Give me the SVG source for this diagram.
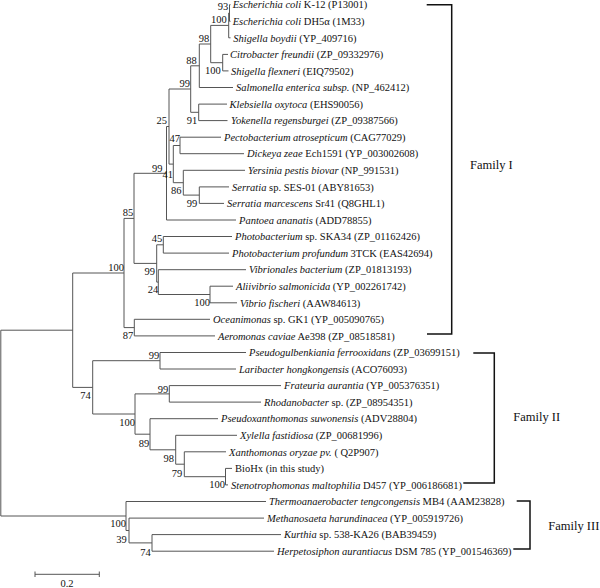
<svg xmlns="http://www.w3.org/2000/svg" width="600" height="588" viewBox="0 0 600 588">
<style>
text{font-family:"Liberation Serif","Times New Roman",serif;fill:#111}
.lf{font-size:10.5px}
.i{font-style:italic}
.bs{font-size:10.5px;text-anchor:end}
.fam{font-size:12.5px}
.br{fill:none;stroke:#555;stroke-width:1}
.bk{fill:none;stroke:#111;stroke-width:1.5}
</style>
<rect width="600" height="588" fill="#fff"/>
<g id="connectors">
<path class="br" d="M230.5,4.7H229.5V21.3H230.5"/>
<path class="br" d="M229.5,13H228.7V37.8H230.5"/>
<path class="br" d="M228,54.4H222.7V70.9H228.5"/>
<path class="br" d="M228.7,25.4H210.7V62.7H222.7"/>
<path class="br" d="M210.7,44H199.3V87.5H233"/>
<path class="br" d="M227,104.1H198.7V120.6H227.5"/>
<path class="br" d="M199.3,65.8H190.7V112.3H198.7"/>
<path class="br" d="M221,137.2H180V153.7H244"/>
<path class="br" d="M229,186.9H199.3V203.4H224"/>
<path class="br" d="M245,170.3H183.3V195.1H199.3"/>
<path class="br" d="M180,145.5H173.3V182.7H183.3"/>
<path class="br" d="M190.7,89H169V164.1H173.3"/>
<path class="br" d="M169,126.5H166.5V220H236"/>
<path class="br" d="M232,236.5H163.3V253.1H229"/>
<path class="br" d="M233,286.2H210V302.8H237"/>
<path class="br" d="M246,269.7H158.3V294.5H210"/>
<path class="br" d="M163.3,244.8H156.7V282.1H158.3"/>
<path class="br" d="M166.5,173.3H134V263.4H156.7"/>
<path class="br" d="M210,319.3H134.3V335.9H215"/>
<path class="br" d="M134,218.4H124V327.6H134.3"/>
<path class="br" d="M246,352.5H160V369H236"/>
<path class="br" d="M281,385.6H169.3V402.1H261"/>
<path class="br" d="M232,468.4H225.5V484.9H228"/>
<path class="br" d="M226,451.8H184.3V476.7H225.5"/>
<path class="br" d="M237,435.3H175.7V464.2H184.3"/>
<path class="br" d="M218,418.7H150V449.8H175.7"/>
<path class="br" d="M169.3,393.9H135V434.2H150"/>
<path class="br" d="M160,360.7H92.7V414H135"/>
<path class="br" d="M124,273H72.7V387.4H92.7"/>
<path class="br" d="M281,534.6H152V551.2H274"/>
<path class="br" d="M264,518.1H129V542.9H152"/>
<path class="br" d="M266,501.5H126V530.5H129"/>
<path class="br" d="M72.7,330.2H0.8V516H126"/>
</g>
<g id="leaves">
<g id="leaf-ecoli-k12"><text class="lf" x="232.7" y="8.4"><tspan class="i">Escherichia coli</tspan> K-12 (P13001)</text></g>
<g id="leaf-ecoli-dh5a"><text class="lf" x="232.7" y="25"><tspan class="i">Escherichia coli</tspan> DH5α (1M33)</text></g>
<g id="leaf-shigella-boydii"><text class="lf" x="233.3" y="41.5"><tspan class="i">Shigella boydii</tspan> (YP_409716)</text></g>
<g id="leaf-citrobacter"><text class="lf" x="230" y="58.1"><tspan class="i">Citrobacter freundii</tspan> (ZP_09332976)</text></g>
<g id="leaf-shigella-flexneri"><text class="lf" x="231" y="74.6"><tspan class="i">Shigella flexneri</tspan> (EIQ79502)</text></g>
<g id="leaf-salmonella"><text class="lf" x="236" y="91.2"><tspan class="i">Salmonella enterica subsp.</tspan> (NP_462412)</text></g>
<g id="leaf-klebsiella"><text class="lf" x="229.5" y="107.8"><tspan class="i">Klebsiella oxytoca</tspan> (EHS90056)</text></g>
<g id="leaf-yokenella"><text class="lf" x="231" y="124.3"><tspan class="i">Yokenella regensburgei</tspan> (ZP_09387566)</text></g>
<g id="leaf-pectobacterium"><text class="lf" x="224" y="140.9"><tspan class="i">Pectobacterium atrosepticum</tspan> (CAG77029)</text></g>
<g id="leaf-dickeya"><text class="lf" x="247" y="157.4"><tspan class="i">Dickeya zeae</tspan> Ech1591 (YP_003002608)</text></g>
<g id="leaf-yersinia"><text class="lf" x="248" y="174"><tspan class="i">Yersinia pestis biovar</tspan> (NP_991531)</text></g>
<g id="leaf-serratia-ses01"><text class="lf" x="232" y="190.6"><tspan class="i">Serratia</tspan> sp. SES-01 (ABY81653)</text></g>
<g id="leaf-serratia-marcescens"><text class="lf" x="227" y="207.1"><tspan class="i">Serratia marcescens</tspan> Sr41 (Q8GHL1)</text></g>
<g id="leaf-pantoea"><text class="lf" x="239" y="223.7"><tspan class="i">Pantoea ananatis</tspan> (ADD78855)</text></g>
<g id="leaf-photobacterium-ska34"><text class="lf" x="235" y="240.2"><tspan class="i">Photobacterium</tspan> sp. SKA34 (ZP_01162426)</text></g>
<g id="leaf-photobacterium-profundum"><text class="lf" x="232" y="256.8"><tspan class="i">Photobacterium profundum</tspan> 3TCK (EAS42694)</text></g>
<g id="leaf-vibrionales"><text class="lf" x="249" y="273.4"><tspan class="i">Vibrionales bacterium</tspan> (ZP_01813193)</text></g>
<g id="leaf-aliivibrio"><text class="lf" x="236" y="289.9"><tspan class="i">Aliivibrio salmonicida</tspan> (YP_002261742)</text></g>
<g id="leaf-vibrio-fischeri"><text class="lf" x="240" y="306.5"><tspan class="i">Vibrio fischeri</tspan> (AAW84613)</text></g>
<g id="leaf-oceanimonas"><text class="lf" x="213" y="323"><tspan class="i">Oceanimonas</tspan> sp. GK1 (YP_005090765)</text></g>
<g id="leaf-aeromonas"><text class="lf" x="218" y="339.6"><tspan class="i">Aeromonas caviae</tspan> Ae398 (ZP_08518581)</text></g>
<g id="leaf-pseudogulbenkiania"><text class="lf" x="249" y="356.2"><tspan class="i">Pseudogulbenkiania ferrooxidans</tspan> (ZP_03699151)</text></g>
<g id="leaf-laribacter"><text class="lf" x="239" y="372.7"><tspan class="i">Laribacter hongkongensis</tspan> (ACO76093)</text></g>
<g id="leaf-frateuria"><text class="lf" x="284" y="389.3"><tspan class="i">Frateuria aurantia</tspan> (YP_005376351)</text></g>
<g id="leaf-rhodanobacter"><text class="lf" x="264" y="405.8"><tspan class="i">Rhodanobacter</tspan> sp. (ZP_08954351)</text></g>
<g id="leaf-pseudoxanthomonas"><text class="lf" x="221" y="422.4"><tspan class="i">Pseudoxanthomonas suwonensis</tspan> (ADV28804)</text></g>
<g id="leaf-xylella"><text class="lf" x="240" y="439"><tspan class="i">Xylella fastidiosa</tspan> (ZP_00681996)</text></g>
<g id="leaf-xanthomonas"><text class="lf" x="229" y="455.5"><tspan class="i">Xanthomonas oryzae pv.</tspan> ( Q2P907)</text></g>
<g id="leaf-biohx"><text class="lf" x="235" y="472.1">BioHx (in this study)</text></g>
<g id="leaf-stenotrophomonas"><text class="lf" x="231" y="488.6"><tspan class="i">Stenotrophomonas maltophilia</tspan> D457 (YP_006186681)</text></g>
<g id="leaf-thermoanaerobacter"><text class="lf" x="269" y="505.2"><tspan class="i">Thermoanaerobacter tengcongensis</tspan> MB4 (AAM23828)</text></g>
<g id="leaf-methanosaeta"><text class="lf" x="267" y="521.8"><tspan class="i">Methanosaeta harundinacea</tspan> (YP_005919726)</text></g>
<g id="leaf-kurthia"><text class="lf" x="284" y="538.3"><tspan class="i">Kurthia</tspan> sp. 538-KA26 (BAB39459)</text></g>
<g id="leaf-herpetosiphon"><text class="lf" x="277" y="554.9"><tspan class="i">Herpetosiphon aurantiacus</tspan> DSM 785 (YP_001546369)</text></g>
</g>
<g id="bootstrap">
<text class="bs" x="228.3" y="9.5">93</text>
<text class="bs" x="226.7" y="23">100</text>
<text class="bs" x="209.3" y="41.5">98</text>
<text class="bs" x="196.7" y="64">88</text>
<text class="bs" x="220.7" y="74">100</text>
<text class="bs" x="190" y="87">99</text>
<text class="bs" x="197.3" y="123.5">91</text>
<text class="bs" x="167" y="124">25</text>
<text class="bs" x="180" y="141.5">47</text>
<text class="bs" x="162.5" y="171.5">99</text>
<text class="bs" x="173" y="177.5">41</text>
<text class="bs" x="181.5" y="193.5">86</text>
<text class="bs" x="197.3" y="206.7">99</text>
<text class="bs" x="133.3" y="216">85</text>
<text class="bs" x="162.3" y="242">45</text>
<text class="bs" x="124" y="270.5">100</text>
<text class="bs" x="155" y="275">99</text>
<text class="bs" x="158.3" y="293.3">24</text>
<text class="bs" x="210" y="306">100</text>
<text class="bs" x="133.3" y="339.3">87</text>
<text class="bs" x="159.3" y="358.5">99</text>
<text class="bs" x="168.3" y="392.7">99</text>
<text class="bs" x="90.7" y="399">74</text>
<text class="bs" x="135" y="425.5">100</text>
<text class="bs" x="149.3" y="446.7">89</text>
<text class="bs" x="174" y="461.7">98</text>
<text class="bs" x="182.3" y="476.7">79</text>
<text class="bs" x="225" y="488.3">100</text>
<text class="bs" x="126" y="527.3">100</text>
<text class="bs" x="126.7" y="542.7">39</text>
<text class="bs" x="150.7" y="556">74</text>
</g>
<g id="family-1">
<path class="bk" d="M426.7,4.7H451.7V334H427"/>
<text class="fam" x="470" y="169">Family I</text>
</g>
<g id="family-2">
<path class="bk" d="M473.3,353H494.3V483H463.3"/>
<text class="fam" x="513.3" y="421">Family II</text>
</g>
<g id="family-3">
<path class="bk" d="M516.7,501H530V549H513.3"/>
<text class="fam" x="548.3" y="530">Family III</text>
</g>
<g id="scale-bar">
<path class="br" d="M35,574.3H99.3M35,571.5V577M99.3,571.5V577"/>
<text class="bs" x="67" y="587" style="text-anchor:middle">0.2</text>
</g>
</svg>
